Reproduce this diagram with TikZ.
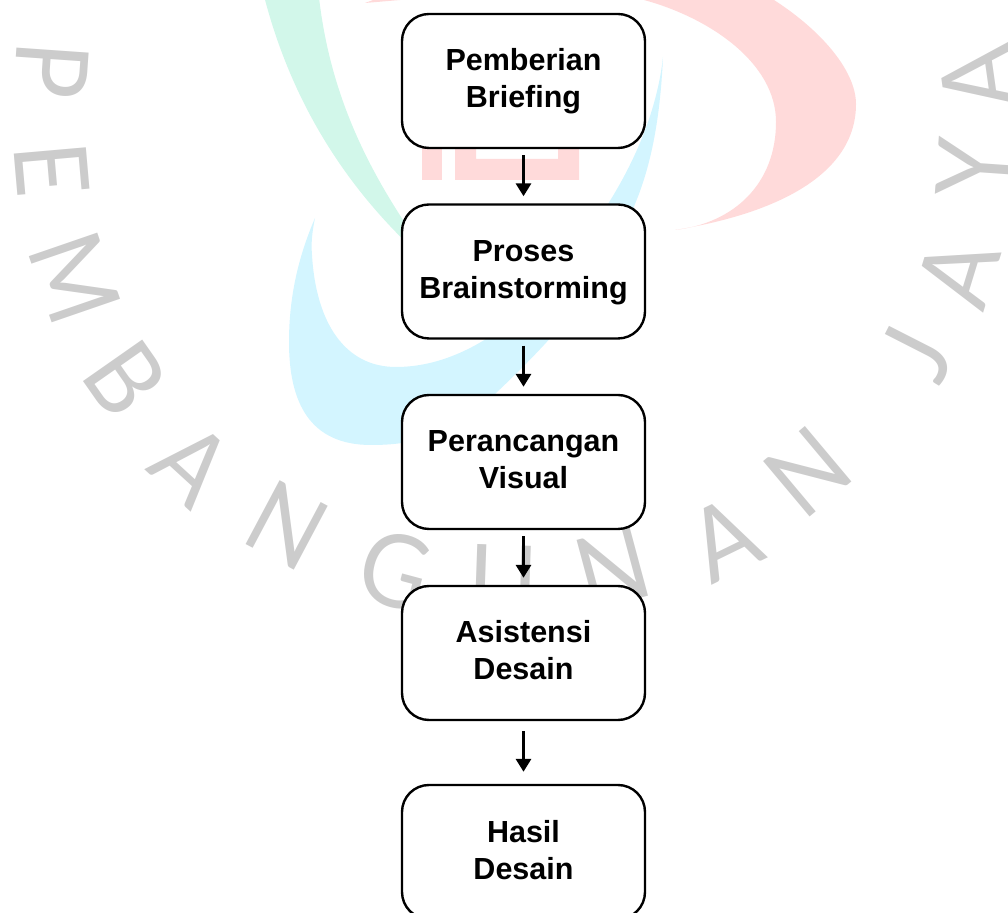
\documentclass[tikz,border=0pt]{standalone}
\usepackage{fontspec}
\setmainfont{Liberation Sans}
\newfontfamily\wmfont{Lato}
\usetikzlibrary{arrows.meta}
\definecolor{wmgreen}{HTML}{D2F7EA}
\definecolor{wmred}{HTML}{FFDADA}
\definecolor{wmblue}{HTML}{D3F5FF}
\definecolor{wmgray}{HTML}{CCCCCC}
\newcommand{\steptext}[2]{\rule{0pt}{24bp}#1\\#2\rule[-7bp]{0pt}{7bp}}
\tikzset{
  stepbox/.style={draw,rectangle,rounded corners=27bp,line width=2.4bp,fill=white,
    minimum width=243bp,minimum height=134bp,inner sep=0pt,align=center,
    font=\fontsize{30.5bp}{37bp}\selectfont\bfseries},
  wmletter/.style={xscale=.93,text=wmgray,inner sep=0pt,font=\fontsize{101bp}{101bp}\wmfont},
  flow/.style={->,line width=3.4bp}
}
\begin{document}
\begin{tikzpicture}[>={Triangle[length=13bp,width=15bp]},line join=bevel]
        \useasboundingbox (0bp,0bp) rectangle (1008bp,913bp);
        %% watermark
        \fill [wmgreen] (262bp,925bp) ..controls (290bp,810bp) and (350bp,715bp)  .. (440bp,640bp) ..controls (385bp,715bp) and (330bp,800bp)  .. (318bp,925bp) -- cycle;
        \fill [wmred] (675bp,683bp) ..controls (735bp,690bp) and (776bp,730bp)  .. (776bp,791bp) ..controls (776bp,850bp) and (710bp,895bp)  .. (644bp,913bp) -- (600bp,930bp) -- (365bp,910bp) -- (500bp,960bp) -- (774bp,913bp) ..controls (825bp,880bp) and (856bp,840bp)  .. (856bp,809bp) ..controls (856bp,740bp) and (780bp,700bp)  .. (675bp,683bp) -- cycle;
        \fill [wmred] (422bp,733bp) rectangle (442bp,780bp);
        \fill [wmred] (455bp,780bp) -- (455bp,733bp) -- (579bp,733bp) -- (579bp,780bp) -- (558bp,780bp) -- (558bp,754bp) -- (476bp,754bp) -- (476bp,780bp) -- cycle;
        \fill [wmblue] (663bp,856bp) ..controls (660bp,790bp) and (650bp,745bp)  .. (635bp,709bp) ..controls (610bp,640bp) and (565bp,585bp)  .. (495bp,519bp) ..controls (450bp,475bp) and (410bp,468bp)  .. (371bp,468bp) ..controls (310bp,468bp) and (289bp,510bp)  .. (289bp,571bp) ..controls (289bp,620bp) and (300bp,660bp)  .. (315bp,695bp) ..controls (312bp,680bp) and (311bp,670bp)  .. (312bp,658bp) ..controls (316bp,590bp) and (345bp,546bp)  .. (396bp,546bp) ..controls (490bp,546bp) and (570bp,640bp)  .. (608bp,709bp) ..controls (640bp,760bp) and (658bp,810bp)  .. (663bp,856bp) -- cycle;
        \node (wm1) at (52bp,843bp) [rotate=-94,wmletter] {P};
        \node (wm2) at (52bp,744bp) [rotate=-85,wmletter] {E};
        \node (wm3) at (75bp,635bp) [rotate=-71,wmletter] {M};
        \node (wm4) at (126bp,534bp) [rotate=-55,wmletter] {B};
        \node (wm5) at (192bp,449bp) [rotate=-42.5,wmletter] {A};
        \node (wm6) at (287bp,388bp) [rotate=-28,wmletter] {N};
        \node (wm7) at (395bp,343bp) [rotate=-15,wmletter] {G};
        \node (wm8) at (503bp,331bp) [rotate=-2,wmletter] {U};
        \node (wm9) at (613bp,345bp) [rotate=15,wmletter] {N};
        \node (wm10) at (724bp,374bp) [rotate=26,wmletter] {A};
        \node (wm11) at (808bp,441bp) [rotate=40,wmletter] {N};
        \node (wm12) at (917bp,559bp) [rotate=63,wmletter] {J};
        \node (wm13) at (958bp,640bp) [rotate=73,wmletter] {A};
        \node (wm14) at (973bp,745bp) [rotate=86,wmletter] {Y};
        \node (wm15) at (978bp,835bp) [rotate=98,wmletter] {A};
        %% flow
        \node (briefing) at (523.5bp,832bp) [stepbox] {\steptext{Pemberian}{Briefing}};
        \node (brainstorming) at (523.5bp,641.5bp) [stepbox] {\steptext{Proses}{Brainstorming}};
        \node (visual) at (523.5bp,451bp) [stepbox] {\steptext{Perancangan}{Visual}};
        \node (asistensi) at (523.5bp,260bp) [stepbox] {\steptext{Asistensi}{Desain}};
        \node (hasil) at (523.5bp,61bp) [stepbox] {\steptext{Hasil}{Desain}};
        \draw [flow,shorten <=6bp,shorten >=7bp] (briefing) -- (brainstorming);
        \draw [flow,shorten <=6bp,shorten >=7bp] (brainstorming) -- (visual);
        \draw [flow,shorten <=6bp,shorten >=7bp] (visual) -- (asistensi);
        \draw [flow,shorten <=10bp,shorten >=12bp] (asistensi) -- (hasil);
        %
    \end{tikzpicture}
\end{document}
